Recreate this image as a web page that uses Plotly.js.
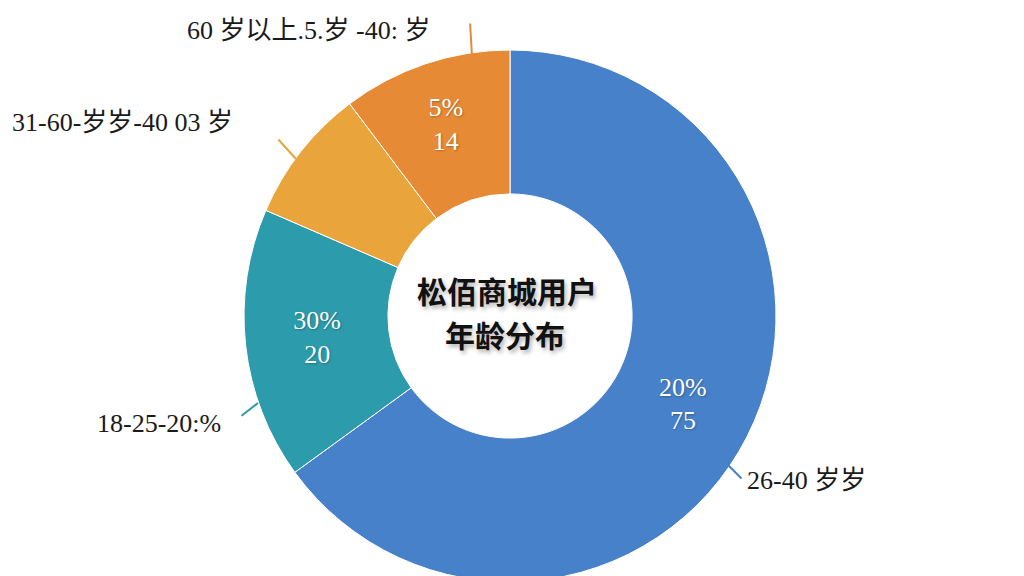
<!DOCTYPE html>
<html>
<head>
<meta charset="utf-8">
<script src="https://cdn.plot.ly/plotly-3.0.1.min.js"></script>
<style>
  html, body { margin: 0; padding: 0; background: #ffffff; overflow: hidden; }
  #chart { width: 1024px; height: 600px; }
</style>
</head>
<body>
<div id="chart"></div>
<script>
// Slice categories (clockwise from 12 o'clock)
const categories = ['26-40 岁岁', '18-25-20:%', '31-60-岁岁-40 03 岁', '60 岁以上.5.岁 -40: 岁'];
// Share of each slice
const shares = [65, 16.5, 8.2, 10.3];
// Text printed inside the slices
const sliceText = ['20%<br>75', '30%<br>20', '', '5%<br>14'];
// Slice colours
const sliceColors = ['#4681c9', '#2c9bab', '#e9a43b', '#e68a35'];
// Centre caption lines
const centerTitle = ['松佰商城用户', '年龄分布'];

const W = 1024, H = 600;
const serif = 'Liberation Serif, "Times New Roman", "Noto Sans CJK SC", serif';

const trace = {
  type: 'pie',
  labels: categories,
  values: shares,
  text: sliceText,
  textinfo: 'text',
  textposition: 'inside',
  insidetextorientation: 'horizontal',
  textfont: { family: serif, size: 26, color: '#ffffff', shadow: '1px 1px 2px rgba(0,0,0,0.25)' },
  hole: 0.459,
  sort: false,
  direction: 'clockwise',
  rotation: 0,
  marker: { colors: sliceColors, line: { color: '#ffffff', width: 1 } },
  domain: { x: [0.2383, 0.7578], y: [0.03, 0.9167] },
  showlegend: false,
  hoverinfo: 'label+value'
};

function px(x) { return x / W; }
function py(y) { return 1 - y / H; }

const labelFont = { family: serif, size: 26, color: '#1a1a1a' };
const captionFont = { family: '"Noto Sans CJK SC", sans-serif', size: 30, color: '#111111', weight: 600,
                      shadow: '2px 3px 4px rgba(0,0,0,0.3)' };

const annotations = [
  // centre caption
  { x: px(507), y: py(290), xref: 'paper', yref: 'paper', yanchor: 'middle', text: centerTitle[0],
    showarrow: false, font: captionFont },
  { x: px(505), y: py(334), xref: 'paper', yref: 'paper', yanchor: 'middle', text: centerTitle[1],
    showarrow: false, font: captionFont },
  // outer labels
  { x: px(185), y: py(30), xref: 'paper', yref: 'paper', xanchor: 'left', yanchor: 'middle',
    text: categories[3], showarrow: false, font: labelFont },
  { x: px(10), y: py(123), xref: 'paper', yref: 'paper', xanchor: 'left', yanchor: 'middle',
    text: categories[2], showarrow: false, font: labelFont },
  { x: px(95), y: py(423), xref: 'paper', yref: 'paper', xanchor: 'left', yanchor: 'middle',
    text: categories[1], showarrow: false, font: labelFont },
  { x: px(745), y: py(480), xref: 'paper', yref: 'paper', xanchor: 'left', yanchor: 'middle',
    text: categories[0], showarrow: false, font: labelFont },
  // leader lines
  { x: px(472), y: py(56), xref: 'paper', yref: 'paper', text: '', showarrow: true, arrowhead: 0,
    ax: -2, ay: -34, arrowcolor: sliceColors[3], arrowwidth: 2 },
  { x: px(296), y: py(159), xref: 'paper', yref: 'paper', text: '', showarrow: true, arrowhead: 0,
    ax: -19, ay: -21, arrowcolor: sliceColors[2], arrowwidth: 2 },
  { x: px(258), y: py(403), xref: 'paper', yref: 'paper', text: '', showarrow: true, arrowhead: 0,
    ax: -18, ay: 14, arrowcolor: sliceColors[1], arrowwidth: 2 },
  { x: px(727), y: py(464), xref: 'paper', yref: 'paper', text: '', showarrow: true, arrowhead: 0,
    ax: 16, ay: 16, arrowcolor: sliceColors[0], arrowwidth: 2 }
];

const layout = {
  width: W,
  height: H,
  margin: { l: 0, r: 0, t: 0, b: 0 },
  paper_bgcolor: '#ffffff',
  plot_bgcolor: '#ffffff',
  showlegend: false,
  annotations: annotations
};

Plotly.newPlot('chart', [trace], layout, { displayModeBar: false, staticPlot: true });
</script>
</body>
</html>
